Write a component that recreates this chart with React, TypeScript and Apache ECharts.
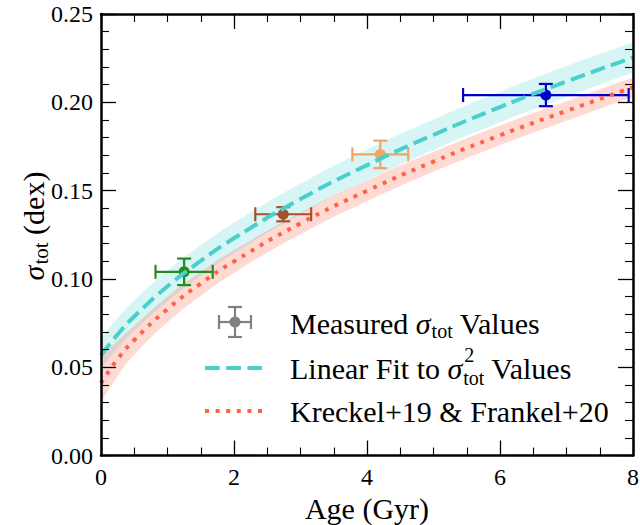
import React, { useEffect, useRef } from "react";
import * as echarts from "echarts";

// ---- data ----
const ages = [0, 0.25, 0.5, 1, 1.5, 2, 3, 4, 5, 6, 7, 8];
const fitSigma = [0.0567, 0.0686, 0.0787, 0.0958, 0.1102, 0.123, 0.1452, 0.1644, 0.1816, 0.1973, 0.2118, 0.2254];
const fitUpper = [0.0661, 0.0778, 0.0878, 0.1047, 0.119, 0.1318, 0.154, 0.1732, 0.1903, 0.206, 0.2205, 0.234];
const fitLower = [0.0495, 0.0605, 0.0705, 0.0873, 0.1017, 0.1145, 0.1366, 0.1558, 0.173, 0.1887, 0.2032, 0.2168];
const litSigma = [0.041, 0.0546, 0.0654, 0.0829, 0.0974, 0.1099, 0.1315, 0.1499, 0.1664, 0.1813, 0.1951, 0.2085];
const litUpper = [0.056, 0.065, 0.0735, 0.09, 0.104, 0.1162, 0.1375, 0.1557, 0.172, 0.1869, 0.2006, 0.214];
const litLower = [0.03, 0.045, 0.057, 0.0755, 0.0905, 0.1034, 0.1253, 0.144, 0.1607, 0.1757, 0.1896, 0.203];

const pointAges = [1.25, 2.74, 4.2, 6.69];
const pointSigma = [0.104, 0.1366, 0.1705, 0.2041];
const ageErr = [0.43, 0.42, 0.42, 1.245];
const sigmaErr = [0.0075, 0.004, 0.0078, 0.0063];
const pointColors = ["#228B22", "#A0522D", "#F4A460", "#0000CD"];

const xTicks = { min: 0, max: 8, interval: 2 };
const yTicks = { min: 0, max: 0.25, interval: 0.05 };

const FONT = "Liberation Serif, serif";
const CYAN = "#48D1CC";
const RED = "#FF6347";

function tw(text: string, size: number, italic = false): number {
  const c = document.createElement("canvas").getContext("2d")!;
  c.font = `${italic ? "italic " : ""}${size}px ${FONT}`;
  return c.measureText(text).width;
}

function txt(text: string, x: number, y: number, size: number, italic = false) {
  return {
    type: "text",
    x,
    y,
    z: 100,
    style: {
      text,
      fontSize: size,
      fontFamily: FONT,
      fontStyle: italic ? "italic" : "normal",
      fill: "#000",
      align: "left",
      verticalAlign: "middle",
    },
  };
}

function buildGraphics() {
  const F = 30;
  const f = 20;
  const els: any[] = [];
  // legend entry 1: errorbar icon
  const gx = 235, gy = 322, grey = "#808080";
  const ls = { stroke: grey, lineWidth: 2.2 };
  const ln = (x1: number, y1: number, x2: number, y2: number, style: any) => ({
    type: "line",
    z: 100,
    shape: { x1, y1, x2, y2 },
    style,
  });
  els.push(ln(gx - 16, gy, gx + 16, gy, ls));
  els.push(ln(gx, gy - 15, gx, gy + 15, ls));
  els.push(ln(gx - 16, gy - 7, gx - 16, gy + 7, ls));
  els.push(ln(gx + 16, gy - 7, gx + 16, gy + 7, ls));
  els.push(ln(gx - 7, gy - 15, gx + 7, gy - 15, ls));
  els.push(ln(gx - 7, gy + 15, gx + 7, gy + 15, ls));
  els.push({ type: "circle", z: 100, shape: { cx: gx, cy: gy, r: 5.5 }, style: { fill: grey } });

  // text 1
  let x = 290;
  const y1 = 323;
  els.push(txt("Measured ", x, y1, F));
  x += tw("Measured ", F);
  els.push(txt("σ", x, y1, F, true));
  x += tw("σ", F, true) + 1;
  els.push(txt("tot", x, y1 + 8, f));
  x += tw("tot", f);
  els.push(txt(" Values", x, y1, F));

  // legend entry 2
  const y2 = 368;
  els.push(ln(205, y2, 262, y2, { stroke: CYAN, lineWidth: 4, lineDash: [14.8, 6.4] }));
  x = 290;
  els.push(txt("Linear Fit to ", x, y2, F));
  x += tw("Linear Fit to ", F);
  els.push(txt("σ", x, y2, F, true));
  x += tw("σ", F, true) + 1;
  els.push(txt("2", x + 1, y2 - 13, f));
  els.push(txt("tot", x, y2 + 10, f));
  x += Math.max(tw("tot", f), tw("2", f));
  els.push(txt(" Values", x, y2, F));

  // legend entry 3
  const y3 = 411;
  els.push(ln(205, y3, 262, y3, { stroke: RED, lineWidth: 4, lineDash: [4, 6.6] }));
  els.push(txt("Kreckel+19 & Frankel+20", 290, y3, F));

  // rotated y-axis title
  const T = 30, t = 21;
  const wS = tw("σ", T, true);
  const wT = tw("tot", t);
  const wD = tw(" (dex)", T);
  const total = wS + 1 + wT + wD;
  const children: any[] = [];
  let lx = 0;
  children.push(txt("σ", lx, 0, T, true));
  lx += wS + 1;
  children.push(txt("tot", lx, 8, t));
  lx += wT;
  children.push(txt(" (dex)", lx, 0, T));
  els.push({
    type: "group",
    x: 33,
    y: 226 + total / 2,
    rotation: Math.PI / 2,
    z: 100,
    children,
  });
  return els;
}

export default function App() {
  const ref = useRef<HTMLDivElement>(null);
  useEffect(() => {
    if (!ref.current) return;
    const chart = echarts.init(ref.current, null, { renderer: "svg" });

    const axisCommon = {
      type: "value",
      axisLine: { show: true, onZero: false, lineStyle: { color: "#000", width: 2.5 } },
      axisTick: { show: true, inside: true, length: 15, lineStyle: { color: "#000", width: 1.3 } },
      splitLine: { show: false },
      z: 10,
    };
    const xBase = {
      ...axisCommon,
      ...xTicks,
      minorTick: { show: true, splitNumber: 4, length: 8, lineStyle: { color: "#000", width: 1.1 } },
    };
    const yBase = {
      ...axisCommon,
      ...yTicks,
      minorTick: { show: true, splitNumber: 5, length: 8, lineStyle: { color: "#000", width: 1.1 } },
    };

    // band edges drawn as area fills: upper edge with tinted fill, lower edge with white fill
    const bandEdge = (data: number[], color: string, z: number) => ({
      type: "line",
      data: ages.map((a, i) => [a, data[i]]),
      smooth: true,
      symbol: "none",
      silent: true,
      lineStyle: { width: 0, opacity: 0 },
      areaStyle: { color, opacity: 1, origin: "start" },
      z,
    });

    chart.setOption({
      animation: false,
      backgroundColor: "#fff",
      grid: { left: 101, top: 14, right: 7, bottom: 69.5, outerBoundsMode: "none", containLabel: false },
      xAxis: [
        {
          ...xBase,
          position: "bottom",
          axisLabel: { show: true, fontFamily: FONT, fontSize: 24, color: "#000", margin: 9 },
          name: "Age (Gyr)",
          nameLocation: "middle",
          nameGap: 36,
          nameTextStyle: { fontFamily: FONT, fontSize: 30, color: "#000" },
        },
        { ...xBase, position: "top", axisLabel: { show: false } },
      ],
      yAxis: [
        {
          ...yBase,
          position: "left",
          axisLabel: {
            show: true,
            fontFamily: FONT,
            fontSize: 24,
            color: "#000",
            margin: 8,
            formatter: (v: number) => v.toFixed(2),
          },
        },
        { ...yBase, position: "right", axisLabel: { show: false } },
      ],
      series: [
        bandEdge(fitUpper, "rgba(72,209,204,0.22)", 1),
        bandEdge(fitLower, "#ffffff", 1),
        bandEdge(litUpper, "rgba(255,99,71,0.24)", 1),
        bandEdge(litLower, "#ffffff", 1),
        {
          type: "custom",
          z: 3,
          clip: false,
          encode: { x: 0, y: 1 },
          data: pointAges.map((a, i) => [a, pointSigma[i], ageErr[i], sigmaErr[i]]),
          renderItem: (params: any, api: any) => {
            const x = api.value(0), y = api.value(1), xe = api.value(2), ye = api.value(3);
            const c = api.coord([x, y]);
            const l = api.coord([x - xe, y]);
            const r = api.coord([x + xe, y]);
            const t = api.coord([x, y + ye]);
            const b = api.coord([x, y - ye]);
            const color = pointColors[params.dataIndex];
            const st = { stroke: color, lineWidth: 2.2 };
            const cap = 7;
            return {
              type: "group",
              children: [
                { type: "line", shape: { x1: l[0], y1: l[1], x2: r[0], y2: r[1] }, style: st },
                { type: "line", shape: { x1: b[0], y1: b[1], x2: t[0], y2: t[1] }, style: st },
                { type: "line", shape: { x1: l[0], y1: l[1] - cap, x2: l[0], y2: l[1] + cap }, style: st },
                { type: "line", shape: { x1: r[0], y1: r[1] - cap, x2: r[0], y2: r[1] + cap }, style: st },
                { type: "line", shape: { x1: t[0] - cap, y1: t[1], x2: t[0] + cap, y2: t[1] }, style: st },
                { type: "line", shape: { x1: b[0] - cap, y1: b[1], x2: b[0] + cap, y2: b[1] }, style: st },
                { type: "circle", shape: { cx: c[0], cy: c[1], r: 5.5 }, style: { fill: color } },
              ],
            };
          },
        },
        {
          type: "line",
          name: "Linear Fit",
          data: ages.map((a, i) => [a, fitSigma[i]]),
          smooth: true,
          symbol: "none",
          z: 4,
          lineStyle: { color: CYAN, width: 4, type: [14.8, 6.4] },
        },
        {
          type: "line",
          name: "Kreckel+19 & Frankel+20",
          data: ages.map((a, i) => [a, litSigma[i]]),
          smooth: true,
          symbol: "none",
          z: 4,
          lineStyle: { color: RED, width: 4, type: [4, 6.6] },
        },
      ],
      graphic: buildGraphics(),
    });
    return () => chart.dispose();
  }, []);
  return (
    <div
      ref={ref}
      style={{ position: "absolute", left: 0, top: 0, width: 640, height: 525 }}
    />
  );
}
